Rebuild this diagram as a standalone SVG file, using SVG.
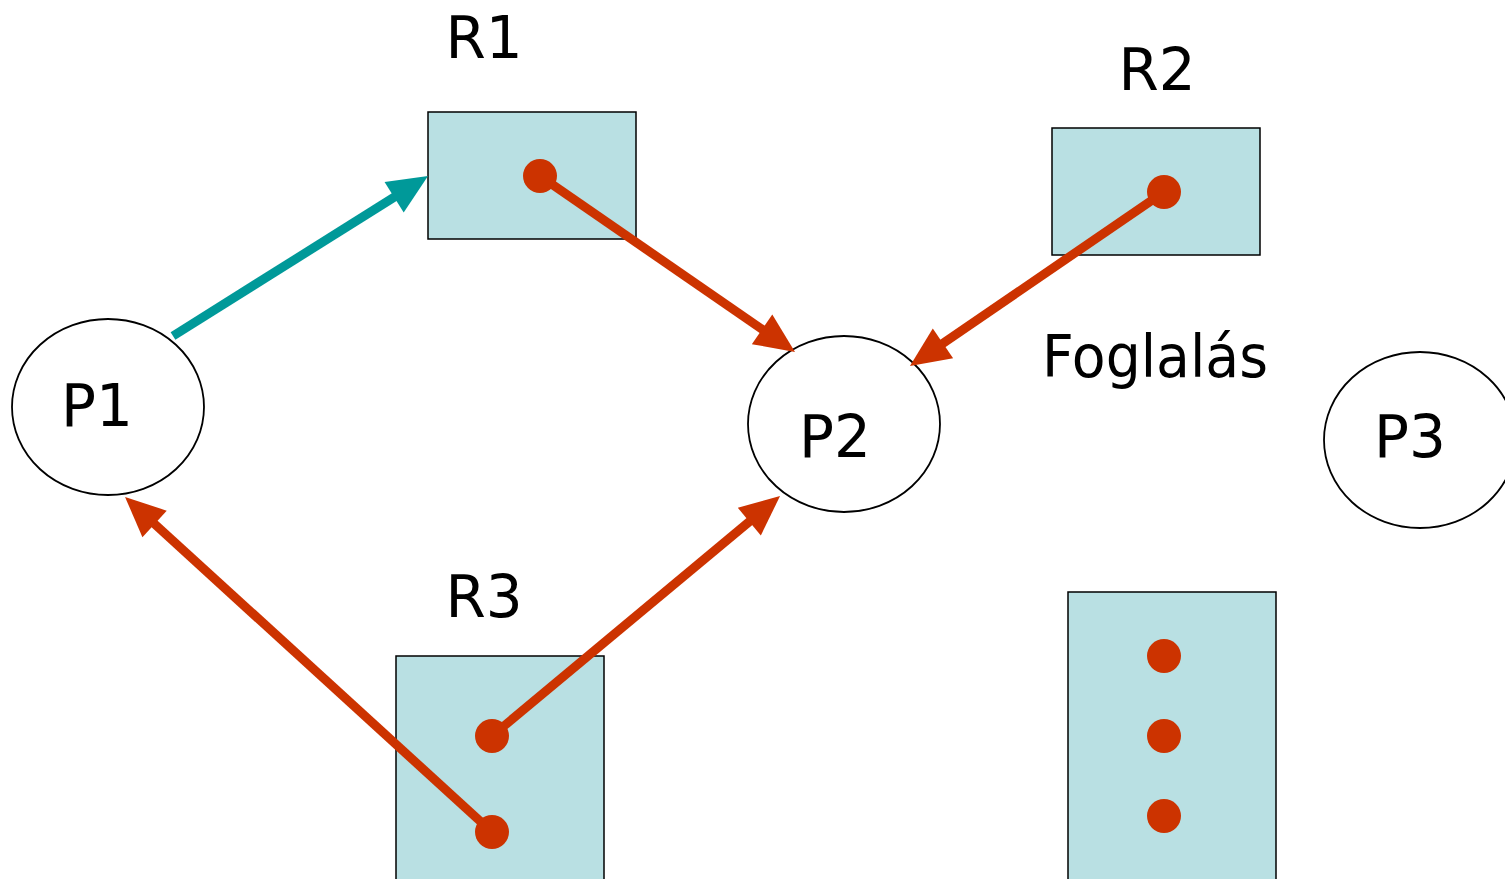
<svg xmlns="http://www.w3.org/2000/svg" width="1505" height="879" viewBox="0 0 1505 879">
<style>
.res{fill:#b9e0e3;stroke:#000;stroke-width:1.5}
.proc{fill:#fff;stroke:#000;stroke-width:1.8}
.lbl{font-family:"DejaVu Sans",Verdana,sans-serif;font-size:58px;fill:#000}
.dot{fill:#cc3300}
.red{stroke:#cc3300;stroke-width:9;fill:none}
.teal{stroke:#009999;stroke-width:9;fill:none}
</style>
<defs>
<marker id="ahRed" markerUnits="userSpaceOnUse" markerWidth="42" markerHeight="38" refX="10" refY="18" orient="auto" overflow="visible">
<path d="M0,0 L40,18 L0,36 Z" fill="#cc3300"/>
</marker>
<marker id="ahTeal" markerUnits="userSpaceOnUse" markerWidth="42" markerHeight="38" refX="10" refY="18" orient="auto" overflow="visible">
<path d="M0,0 L40,18 L0,36 Z" fill="#009999"/>
</marker>
</defs>
<rect width="1505" height="879" fill="#fff"/>
<g id="R1"><rect class="res" x="428" y="112" width="208" height="127"/><text class="lbl" x="484" y="58" text-anchor="middle">R1</text></g>
<g id="R2"><rect class="res" x="1052" y="128" width="208" height="127"/><text class="lbl" x="1157" y="90" text-anchor="middle">R2</text></g>
<g id="R3"><rect class="res" x="396" y="656" width="208" height="240"/><text class="lbl" x="484" y="617" text-anchor="middle">R3</text></g>
<g id="R4"><rect class="res" x="1068" y="592" width="208" height="300"/></g>
<g id="P1"><ellipse class="proc" cx="108" cy="407" rx="96" ry="88"/><text class="lbl" x="97" y="426" text-anchor="middle">P1</text></g>
<g id="P2"><ellipse class="proc" cx="844" cy="424" rx="96" ry="88"/><text class="lbl" x="835" y="457" text-anchor="middle">P2</text></g>
<g id="P3"><ellipse class="proc" cx="1420" cy="440" rx="96" ry="88"/><text class="lbl" x="1410" y="457" text-anchor="middle">P3</text></g>
<g id="label-foglalas"><text class="lbl" x="1042" y="377" textLength="226" lengthAdjust="spacingAndGlyphs">Foglalás</text></g>
<g id="connectors">
<line class="teal" x1="173" y1="336" x2="402.6" y2="191.9" marker-end="url(#ahTeal)"/>
<line class="red" x1="540" y1="176" x2="770.3" y2="335" marker-end="url(#ahRed)"/>
<line class="red" x1="1164" y1="192" x2="934.7" y2="349" marker-end="url(#ahRed)"/>
<line class="red" x1="492" y1="832" x2="147.2" y2="517.2" marker-end="url(#ahRed)"/>
<line class="red" x1="492" y1="736" x2="757" y2="515.2" marker-end="url(#ahRed)"/>
</g>
<g id="dots">
<circle class="dot" cx="540" cy="176" r="17"/>
<circle class="dot" cx="1164" cy="192" r="17"/>
<circle class="dot" cx="492" cy="736" r="17"/>
<circle class="dot" cx="492" cy="832" r="17"/>
<circle class="dot" cx="1164" cy="656" r="17"/>
<circle class="dot" cx="1164" cy="736" r="17"/>
<circle class="dot" cx="1164" cy="816" r="17"/>
</g>
</svg>
